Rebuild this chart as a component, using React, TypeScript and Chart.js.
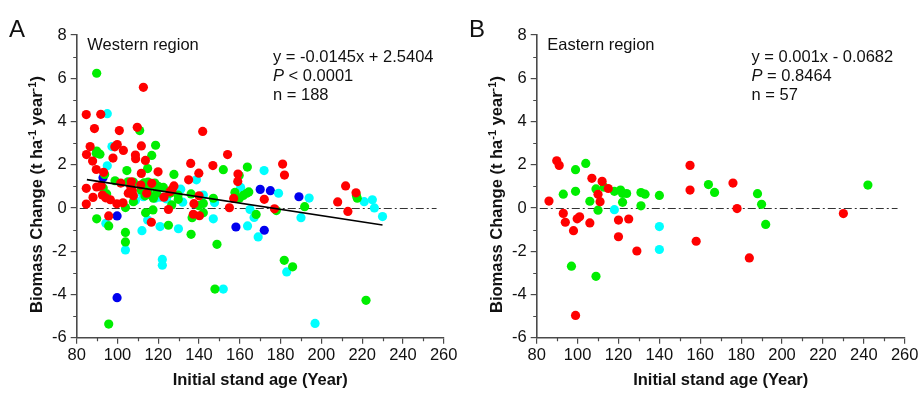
import React, { useEffect, useRef } from "react";
import { Chart, registerables } from "chart.js";

Chart.register(...registerables);

type Pt = [number, number];

// ---------- Panel A (Western region) ----------
const westRed: Pt[] = [
  [84.7, 4.32], [91.8, 4.33], [88.7, 3.67], [100.9, 3.58], [109.7, 3.73], [141.8, 3.54], [112.7, 5.58],
  [86.6, 2.84], [98.7, 2.83], [99.9, 2.93], [111.7, 2.87], [102.9, 2.66], [84.8, 2.47], [108.8, 2.45],
  [108.9, 2.28], [154, 2.47], [97.8, 2.31], [87.8, 2.17], [113.7, 2.2], [135.9, 2.06], [146.8, 1.96],
  [181, 2.03], [89.6, 1.78], [119.9, 1.67], [139.9, 1.61], [93.2, 1.65], [111.7, 1.6], [181.9, 1.52],
  [159.1, 1.57], [159, 1.22], [134.9, 1.3], [101.6, 1.15], [106.8, 1.21], [211.9, 1.02], [84.7, 0.91],
  [89.8, 0.97], [92, 1.03], [111.4, 1.06], [116.8, 1.14], [127.7, 1.02], [126.8, 0.86], [106.6, 0.83],
  [105.3, 0.68], [107.8, 0.57], [92.6, 0.6], [94.2, 0.47], [88, 0.49], [96.5, 0.38], [99.7, 0.19],
  [102.7, 0.24], [84.7, 0.18], [122.8, 0.5], [125, -0.07], [137.5, 0.2], [140, 0.56], [137.2, -0.29],
  [140.2, -0.36], [154.9, 0.01], [157, 0.44], [172, 0.4], [177, -0.04], [208, 0.28], [217, 0.7],
  [213, -0.16], [95.7, -0.37], [116.6, -0.66], [106.5, 1.0], [107.3, 0.8], [114.3, 0.68], [125.8, 0.75],
];
const westGreen: Pt[] = [
  [89.8, 6.23], [110.9, 3.58], [118.7, 2.9], [89.8, 2.63], [89.6, 2.53], [91.4, 2.49], [116.8, 2.43],
  [163.7, 1.89], [114.8, 1.82], [104.6, 1.73], [151.9, 1.77], [93.7, 1.55], [127.7, 1.55], [159.7, 1.5],
  [98.8, 1.26], [107.8, 1.2], [105.2, 1.21], [113, 1.16], [115, 1.2], [118.3, 1.15], [116.8, 1.05],
  [120, 1.0], [122.5, 0.95], [111.6, 0.83], [113.5, 0.56], [117.6, 0.45], [115.1, 0.64], [115, 0.8],
  [119.2, 0.68], [94.7, 0.65], [93, 0.92], [107.8, 0.29], [103.9, 0.02], [125.8, 0.68], [129.7, 0.6],
  [129.8, 0.4], [126.6, 0.14], [136.1, 0.65], [139.8, 0.11], [142.1, 0.21], [147, 0.45], [157.6, 0.72],
  [159.8, 0.45], [161.7, 0.58], [163.4, 0.68], [164.4, 0.74], [168, -0.3], [177.9, -0.12], [191.8, 0.06],
  [217.6, 0.45], [217.2, 0.58], [89.8, -0.5], [95.7, -0.83], [103.9, -1.13], [103.9, -1.57],
  [113.8, -0.22], [117.4, -0.09], [125, -0.8], [136.6, -0.45], [142.1, -0.22], [136.1, -1.22],
  [148.8, -1.68], [147.8, -3.75], [181.8, -2.42], [185.9, -2.72], [95.7, -5.37], [221.9, -4.27],
];
const westCyan: Pt[] = [
  [95, 4.36], [97.3, 2.84], [95, 1.95], [171.9, 1.73], [138.7, 1.3], [160.4, 0.95], [179, 0.68],
  [194, 0.46], [225, 0.38], [221, 0.29], [226, 0], [230, -0.4], [190, -0.45], [165, -0.07], [167, -0.44],
  [163.8, -0.83], [169, -1.34], [183, -2.96], [196.9, -5.34], [151.9, -3.75], [122, -2.38], [122, -2.65],
  [103.9, -1.94], [94.3, -0.71], [112, -1.05], [114.8, -0.56], [120.9, -0.86], [129.9, -0.96],
  [147, -0.5], [142.1, 0.6], [147.6, 0.25], [132, 0.27], [131, 0.87], [124.1, 0.42], [108.8, 0.35],
  [112, 0.68], [118.5, 0.45], [121, 0.5], [112.7, 0.52],
];
const westBlue: Pt[] = [
  [92.9, 1.4], [170, 0.86], [175, 0.8], [189, 0.52], [99.8, -0.37], [158.1, -0.88], [172, -1.03], [99.8, -4.15],
];
const westFitX = [85, 230];
const westFitY = [1.31, -0.79];
const westText = ["y = -0.0145x + 2.5404", "P|< 0.0001", "n = 188"];

// ---------- Panel B (Eastern region) ----------
const eastRed: Pt[] = [
  [89.8, 2.18], [91, 1.97], [155, 1.97], [107, 1.37], [112, 1.23], [176, 1.15], [115, 0.9], [155, 0.83],
  [110, 0.63], [86, 0.32], [111, 0.29], [178, -0.03], [230, -0.26], [93, -0.25], [94, -0.66], [101, -0.41],
  [99.8, -0.5], [98, -1.05], [106, -0.69], [120, -0.56], [125, -0.51], [120, -1.33], [129, -1.99],
  [158, -1.54], [184, -2.31], [99, -4.97],
];
const eastGreen: Pt[] = [
  [104, 2.06], [99, 1.77], [164, 1.08], [242, 1.06], [113, 0.96], [109, 0.88], [93, 0.64], [99, 0.77],
  [118, 0.77], [121, 0.83], [122, 0.67], [124, 0.67], [131, 0.71], [133, 0.64], [140, 0.58], [167, 0.72],
  [188, 0.66], [106, 0.31], [122, 0.26], [131, 0.1], [110, -0.1], [190, 0.17], [192, -0.76], [97, -2.69],
  [109, -3.16],
];
const eastCyan: Pt[] = [[118, -0.08], [140, -0.86], [140, -1.92]];
const eastBlue: Pt[] = [];
const eastText = ["y = 0.001x - 0.0682", "P|= 0.8464", "n = 57"];

// ---------- Axes ----------
const xMin = 80, xMax = 260, xStep = 20;
const yMin = -6, yMax = 8, yStep = 2;
const zeroLineSpan = [81.5, 256.5];

const FONT = "'Liberation Sans', Arial, Helvetica, sans-serif";
const AXIS = "#4a4a4a";

interface PanelProps {
  left: number;
  width: number;
  letter: string;
  region: string;
  text: string[];
  red: Pt[];
  green: Pt[];
  cyan: Pt[];
  blue: Pt[];
  fitX?: number[];
  fitY?: number[];
}

function Panel(props: PanelProps) {
  const ref = useRef<HTMLCanvasElement | null>(null);
  useEffect(() => {
    const canvas = ref.current!;
    const toPts = (a: Pt[]) => a.map(([x, y]) => ({ x, y }));
    const scat = (data: Pt[], color: string) => ({
      type: "scatter" as const,
      data: toPts(data),
      backgroundColor: color,
      borderColor: color,
      borderWidth: 0,
      pointRadius: 4.6,
      order: 1,
    });
    const datasets: any[] = [];
    if (props.fitX && props.fitY) {
      datasets.push({
        type: "scatter",
        data: props.fitX.map((x, i) => ({ x, y: props.fitY![i] })),
        showLine: true,
        borderColor: "#000",
        borderWidth: 1.6,
        pointRadius: 0,
        order: 0,
      });
    }
    datasets.push(scat(props.red, "#ff0000"));
    datasets.push(scat(props.green, "#00ee00"));
    datasets.push(scat(props.cyan, "#00ffff"));
    datasets.push(scat(props.blue, "#0000ee"));

    const decor = {
      id: "decor",
      beforeDatasetsDraw(chart: any) {
        const { ctx, scales } = chart;
        const x = scales.x, y = scales.y;
        const y0 = Math.round(y.getPixelForValue(0)) + 0.5;
        ctx.save();
        ctx.strokeStyle = "#333";
        ctx.lineWidth = 1;
        ctx.setLineDash([8, 3, 2, 3]);
        ctx.beginPath();
        ctx.moveTo(x.getPixelForValue(zeroLineSpan[0]), y0);
        ctx.lineTo(x.getPixelForValue(zeroLineSpan[1]), y0);
        ctx.stroke();
        ctx.restore();
      },
      afterDraw(chart: any) {
        const { ctx, scales, chartArea } = chart;
        const x = scales.x, y = scales.y;
        ctx.save();
        // minor ticks
        ctx.strokeStyle = AXIS;
        ctx.lineWidth = 1.2;
        ctx.beginPath();
        for (let v = xMin + xStep / 2; v < xMax; v += xStep) {
          const px = Math.round(x.getPixelForValue(v)) + 0.5;
          ctx.moveTo(px, chartArea.bottom);
          ctx.lineTo(px, chartArea.bottom + 3.5);
        }
        for (let v = yMin + yStep / 2; v < yMax; v += yStep) {
          const py = Math.round(y.getPixelForValue(v)) + 0.5;
          ctx.moveTo(chartArea.left, py);
          ctx.lineTo(chartArea.left - 3.5, py);
        }
        ctx.stroke();

        ctx.fillStyle = "#111";
        ctx.textBaseline = "alphabetic";
        ctx.textAlign = "left";
        // panel letter
        ctx.font = `24px ${FONT}`;
        ctx.fillText(props.letter, 9, 37);
        // region label
        ctx.font = `16.5px ${FONT}`;
        ctx.fillText(props.region, chartArea.left + 10.5, 50);
        // equation block
        const tx = props.letter === "A" ? 273 : 291.5;
        const bases = [61.5, 80.7, 99.5];
        props.text.forEach((line, i) => {
          if (line.includes("|")) {
            const [a, b] = line.split("|");
            ctx.font = `italic 16.5px ${FONT}`;
            ctx.fillText(a, tx, bases[i]);
            const w = ctx.measureText(a).width;
            ctx.font = `16.5px ${FONT}`;
            ctx.fillText(" " + b, tx + w, bases[i]);
          } else {
            ctx.font = `16.5px ${FONT}`;
            ctx.fillText(line, tx, bases[i]);
          }
        });
        // x title
        ctx.font = `bold 16.5px ${FONT}`;
        ctx.textAlign = "center";
        ctx.fillText("Initial stand age (Year)", (chartArea.left + chartArea.right) / 2, 385);
        // y title with superscripts
        ctx.translate(42, 313);
        ctx.rotate(-Math.PI / 2);
        ctx.textAlign = "left";
        const segs: [string, boolean][] = [
          ["Biomass Change (t ha", false],
          ["-1", true],
          [" year", false],
          ["-1", true],
          [")", false],
        ];
        let cx = 0;
        for (const [t, sup] of segs) {
          ctx.font = sup ? `bold 11px ${FONT}` : `bold 16.5px ${FONT}`;
          ctx.fillText(t, cx, sup ? -6.5 : 0);
          cx += ctx.measureText(t).width;
        }
        ctx.restore();
      },
    };

    const chart = new Chart(canvas, {
      type: "scatter",
      data: { datasets },
      options: {
        animation: false,
        responsive: false,
        devicePixelRatio: 1,
        events: [],
        layout: { padding: { left: 0, top: 35, right: 16.3, bottom: 0 } },
        plugins: { legend: { display: false }, tooltip: { enabled: false } },
        scales: {
          x: {
            type: "linear",
            min: xMin,
            max: xMax,
            ticks: {
              stepSize: xStep,
              font: { family: FONT, size: 16.5 },
              color: "#111",
              padding: 2,
              maxRotation: 0,
              autoSkip: false,
            },
            grid: { drawOnChartArea: false, drawTicks: true, tickLength: 6, color: AXIS, lineWidth: 1.2 },
            border: { display: true, color: AXIS, width: 1.6 },
            afterFit: (s: any) => {
              s.height = 60.3;
            },
          },
          y: {
            type: "linear",
            min: yMin,
            max: yMax,
            ticks: {
              stepSize: yStep,
              font: { family: FONT, size: 16.5 },
              color: "#111",
              padding: 4,
              autoSkip: false,
            },
            grid: { drawOnChartArea: false, drawTicks: true, tickLength: 6, color: AXIS, lineWidth: 1.2 },
            border: { display: true, color: AXIS, width: 1.6 },
            afterFit: (s: any) => {
              s.width = 76.7;
            },
          },
        },
      } as any,
      plugins: [decor],
    });
    return () => chart.destroy();
  }, []);
  return (
    <canvas
      ref={ref}
      width={props.width}
      height={398}
      style={{ position: "absolute", left: props.left, top: 0, width: props.width, height: 398 }}
    />
  );
}

export default function App() {
  return (
    <div style={{ position: "absolute", left: 0, top: 0, width: 921, height: 398, background: "#fff" }}>
      <Panel
        left={0}
        width={460}
        letter="A"
        region="Western region"
        text={westText}
        red={westRed}
        green={westGreen}
        cyan={westCyan}
        blue={westBlue}
        fitX={westFitX}
        fitY={westFitY}
      />
      <Panel
        left={460}
        width={461}
        letter="B"
        region="Eastern region"
        text={eastText}
        red={eastRed}
        green={eastGreen}
        cyan={eastCyan}
        blue={eastBlue}
      />
    </div>
  );
}
